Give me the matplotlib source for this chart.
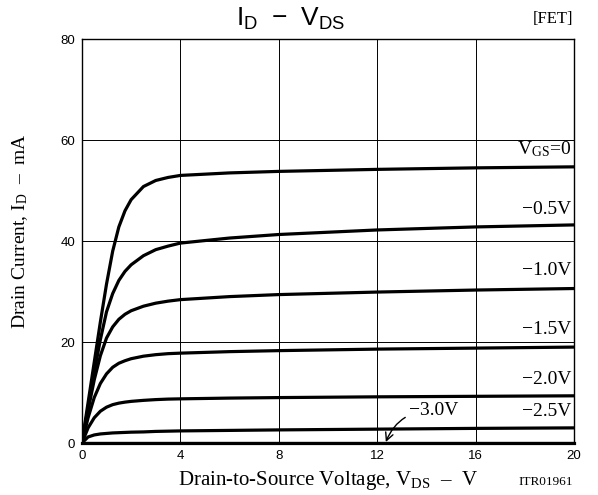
import matplotlib
matplotlib.use("Agg")
import matplotlib.pyplot as plt

plt.rcParams["mathtext.fontset"] = "custom"
plt.rcParams["mathtext.rm"] = "Liberation Serif"
plt.rcParams["mathtext.sf"] = "Liberation Sans"

# Drain-source voltage sample points (V)
vds = [0, 0.25, 0.5, 0.75, 1.0, 1.25, 1.5, 1.75, 2, 2.5, 3, 3.5, 4, 6, 8, 12, 16, 20]

# Drain current (mA) for each gate-source voltage
id_vgs_0 = [0, 8, 16, 24, 31.5, 38.0, 42.8, 46.0, 48.2, 50.8, 52.0, 52.6, 53, 53.5, 53.8, 54.2, 54.5, 54.7]
id_vgs_m05 = [0, 7, 14, 20.5, 26.0, 29.6, 32.2, 34.0, 35.3, 37.1, 38.3, 39.0, 39.6, 40.6, 41.3, 42.2, 42.8, 43.2]
id_vgs_m10 = [0, 6.5, 12.5, 17.3, 20.8, 23.0, 24.5, 25.5, 26.2, 27.1, 27.7, 28.1, 28.4, 29, 29.4, 29.9, 30.3, 30.6]
id_vgs_m15 = [0, 5, 9, 11.8, 13.7, 15.0, 15.8, 16.3, 16.7, 17.2, 17.5, 17.7, 17.8, 18.1, 18.3, 18.6, 18.8, 19.0]
id_vgs_m20 = [0, 3, 5, 6.3, 7.1, 7.6, 7.9, 8.1, 8.25, 8.45, 8.6, 8.7, 8.75, 8.9, 9.0, 9.15, 9.25, 9.35]
id_vgs_m25 = [0, 1.2, 1.6, 1.8, 1.9, 2.0, 2.05, 2.1, 2.15, 2.2, 2.3, 2.35, 2.4, 2.5, 2.6, 2.75, 2.9, 3.0]
id_vgs_m30 = [0] * len(vds)

curves = [id_vgs_0, id_vgs_m05, id_vgs_m10, id_vgs_m15, id_vgs_m20, id_vgs_m25, id_vgs_m30]

# Curve labels and where they sit (right-aligned near the right edge)
curve_labels = [r"$\mathrm{V_{GS}}$=0", "\u22120.5V", "\u22121.0V", "\u22121.5V",
                "\u22122.0V", "\u22122.5V"]
label_y = [58.2, 46.2, 34.2, 22.4, 12.5, 6.2]

x_ticks = [0, 4, 8, 12, 16, 20]
y_ticks = [0, 20, 40, 60, 80]

fig = plt.figure(figsize=(5.98, 4.95), dpi=100)
ax = fig.add_axes([0.137, 0.105, 0.823, 0.816])

for cur in curves:
    ax.plot(vds, cur, color="black", lw=2.3, solid_capstyle="butt",
            solid_joinstyle="round", zorder=3)

ax.set_xlim(0, 20)
ax.set_ylim(0, 80)
ax.set_xticks(x_ticks)
ax.set_yticks(y_ticks)
ax.tick_params(length=0, pad=5, labelsize=9.5)
for lbl in ax.get_xticklabels() + ax.get_yticklabels():
    lbl.set_family("Liberation Sans")
ax.grid(True, color="black", lw=0.7)
for side in ("left", "right", "top"):
    ax.spines[side].set_linewidth(1.0)
ax.spines["bottom"].set_linewidth(2.3)

for text, y in zip(curve_labels, label_y):
    ax.text(19.9, y, text, ha="right", va="center", fontsize=14,
            family="Liberation Serif", zorder=4)

ax.annotate("\u22123.0V", xy=(12.35, 0.2), xytext=(13.3, 6.4),
            ha="left", va="center", fontsize=14, family="Liberation Serif",
            arrowprops=dict(arrowstyle="->", color="black", lw=1.0,
                            connectionstyle="arc3,rad=0.35",
                            shrinkA=1, shrinkB=0))

ax.set_xlabel("Drain-to-Source Voltage, $\\mathrm{V_{DS}}$  \u2013  V",
              fontsize=15, family="Liberation Serif", labelpad=5)
ax.set_ylabel("Drain Current, $\\mathrm{I_D}$  \u2013  mA",
              fontsize=14, family="Liberation Serif")
ax.yaxis.set_label_coords(-0.105, 0.525)

fig.text(0.485, 0.962, r"$\mathsf{I_D\ -\ V_{DS}}$", ha="center", va="center",
         fontsize=19)
fig.text(0.958, 0.962, "[FET]", ha="right", va="center", fontsize=12,
         family="Liberation Serif")
fig.text(0.958, 0.027, "ITR01961", ha="right", va="center", fontsize=9.5,
         family="Liberation Serif")

fig.savefig("out.png", dpi=100)
